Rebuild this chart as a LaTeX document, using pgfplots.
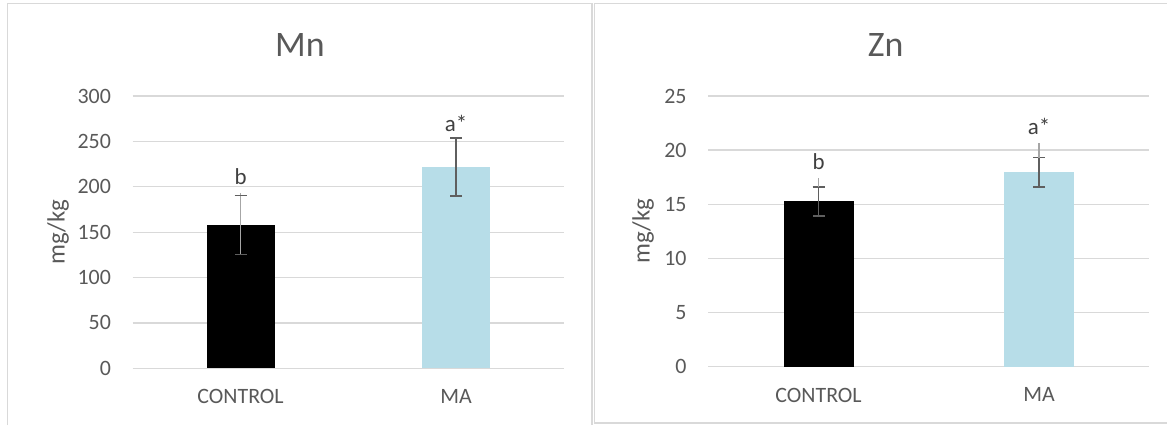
\documentclass[border=0pt]{standalone}
\usepackage{pgfplots}
\pgfplotsset{compat=1.18}
\usepackage{fontspec}
\setmainfont{Carlito}

\definecolor{txt}{HTML}{595959}
\definecolor{lbl}{HTML}{404040}
\definecolor{gridc}{HTML}{D9D9D9}
\definecolor{frame}{HTML}{D9D9D9}
\definecolor{barblue}{HTML}{B7DDE8}
\definecolor{errdark}{HTML}{5F5F5F}
\definecolor{errlight}{HTML}{A6A6A6}

\pgfplotsset{
  panel/.style={
    scale only axis,
    clip=false,
    xmin=-0.5, xmax=1.5,
    xtick={0,1},
    xticklabels={CONTROL,MA},
    axis line style={draw=none},
    major tick length=0pt,
    ymajorgrids,
    grid style={color=gridc, line width=1.3bp},
    /pgf/number format/assume math mode=true,
    tick label style={font=\fontsize{22}{25}\selectfont, text=txt},
    yticklabel style={anchor=east, inner sep=0pt, xshift=-21.6bp},
    xticklabel style={anchor=north, inner sep=0pt, yshift=-21bp},
  },
  errbar/.style={
    error bars/.cd,
      y dir=both, y explicit,
      error mark=-,
      error bar style={line width=1.6bp, color=#1},
      error mark options={rotate=90, mark size=6bp, line width=1.6bp, color=errdark},
  },
  errext/.style={
    draw=none, mark=none, forget plot,
    error bars/.cd,
      y dir=plus, y explicit,
      error mark=none,
      error bar style={line width=1.6bp, color=errlight},
  },
}

\begin{document}
\begin{tikzpicture}[x=1bp, y=1bp]
\useasboundingbox (0,0) rectangle (1167,425);

% chart frames
\draw[frame, line width=1.3bp] (7.5,0) -- (7.5,421.5) -- (592,421.5) -- (592,0);
\draw[frame, line width=1.3bp] (1167,2) -- (594.5,2) -- (594.5,421.5) -- (1167,421.5);

% ---------------- Mn ----------------
\begin{axis}[panel,
  at={(132.7bp,56.7bp)}, anchor=south west,
  width=431.3bp, height=272.3bp,
  ymin=0, ymax=300, ytick={0,50,...,300}]
  \addplot[ybar, bar width=68bp, fill=black, draw=none, errbar=errlight]
    coordinates {(0,158) +- (0,32.5)};
  \addplot[errext] coordinates {(0,190.5) += (0,2.5)};
  \addplot[ybar, bar width=68bp, fill=barblue, draw=none, errbar=errdark]
    coordinates {(1,222) +- (0,32)};
  \node[font=\fontsize{23}{26}\selectfont, text=lbl] at (axis cs:0,211) {b};
  \node[font=\fontsize{23}{26}\selectfont, text=lbl] at (axis cs:1,270) {a*};
\end{axis}
\node[font=\fontsize{36}{40}\selectfont, text=txt] at (300,380) {Mn};
\node[font=\fontsize{25}{29}\selectfont, text=txt, rotate=90] at (58,193) {mg/kg};

% ---------------- Zn ----------------
\begin{axis}[panel,
  at={(708.3bp,58.3bp)}, anchor=south west,
  width=441bp, height=270.7bp,
  ymin=0, ymax=25, ytick={0,5,...,25}]
  \addplot[ybar, bar width=70bp, fill=black, draw=none, errbar=errdark]
    coordinates {(0,15.27) +- (0,1.35)};
  \addplot[errext] coordinates {(0,16.62) += (0,0.8)};
  \addplot[ybar, bar width=70bp, fill=barblue, draw=none, errbar=errdark]
    coordinates {(1,17.95) +- (0,1.37)};
  \addplot[errext] coordinates {(1,19.32) += (0,1.3)};
  \node[font=\fontsize{23}{26}\selectfont, text=lbl] at (axis cs:0,18.93) {b};
  \node[font=\fontsize{23}{26}\selectfont, text=lbl] at (axis cs:1,22.2) {a*};
\end{axis}
\node[font=\fontsize{36}{40}\selectfont, text=txt] at (885.7,380) {Zn};
\node[font=\fontsize{25}{29}\selectfont, text=txt, rotate=90] at (643,193.7) {mg/kg};
\end{tikzpicture}
\end{document}
